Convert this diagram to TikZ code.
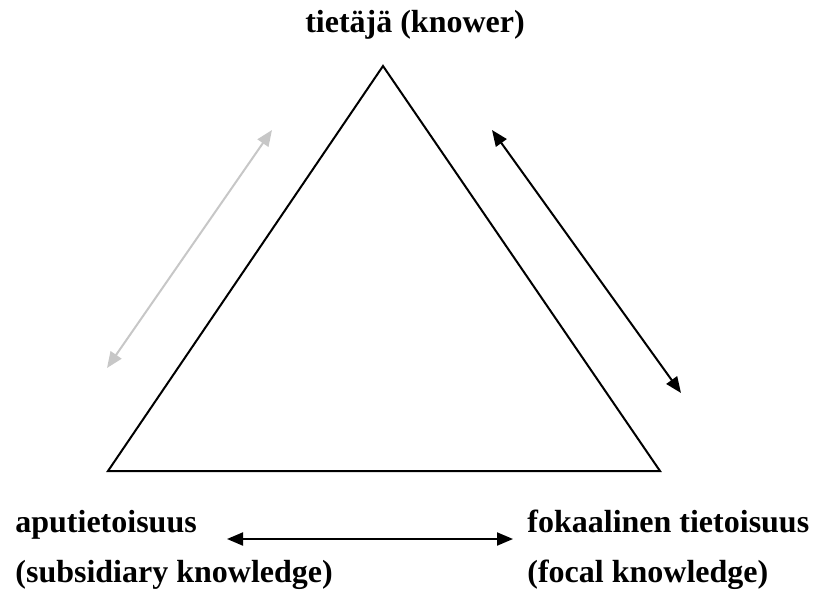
\documentclass[tikz,border=0pt]{standalone}
\usepackage{fontspec}
\setmainfont{Liberation Serif}
\usetikzlibrary{arrows.meta}
\usetikzlibrary{positioning}

\tikzset{
    label text/.style={font=\fontsize{16}{19}\selectfont\bfseries, inner sep=0pt},
    double arrow/.style={{Triangle[length=8pt,width=6.5pt]}-{Triangle[length=8pt,width=6.5pt]}, line width=1pt}
}

\begin{document}
\begin{tikzpicture}[x=0.5pt,y=-0.5pt]
        \useasboundingbox (0,0) rectangle (823,595);
        % triangle
        \coordinate (top) at (383,66);
        \coordinate (left) at (108,471);
        \coordinate (right) at (660,471);
        \draw[line width=1pt] (top) -- (left) -- (right) -- cycle;

        % texts
        \node[label text, anchor=base] (knower) at (415,32) {tietäjä (knower)};
        \node[label text, anchor=base west] (apu) at (15,532) {aputietoisuus};
        \node[label text, anchor=base west] (subsid) at (15,582) {(subsidiary knowledge)};
        \node[label text, anchor=base west] (foka) at (527,532) {fokaalinen tietoisuus};
        \node[label text, anchor=base west] (focal) at (527,582) {(focal knowledge)};

        % arrows
        \coordinate (g1) at (107,368);
        \coordinate (g2) at (272,130);
        \coordinate (b1) at (492,130);
        \coordinate (b2) at (681,393);
        \coordinate (h1) at (227,539);
        \coordinate (h2) at (513,539);
        \draw[double arrow, black!22] (g1) -- (g2);
        \draw[double arrow] (b1) -- (b2);
        \draw[double arrow] (h1) -- (h2);
\end{tikzpicture}
\end{document}
